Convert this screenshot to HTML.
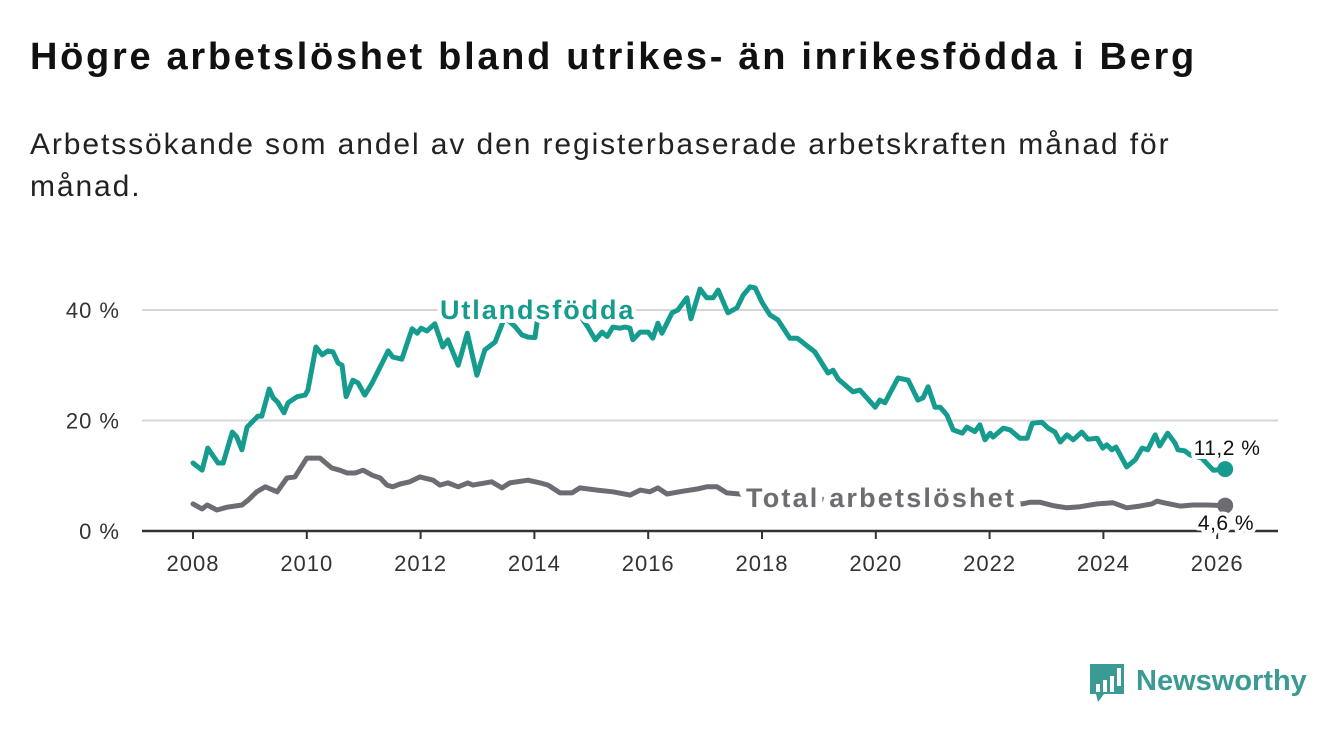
<!DOCTYPE html>
<html><head><meta charset="utf-8">
<style>
html,body{margin:0;padding:0;background:#fff;}
body{width:1340px;height:734px;overflow:hidden;position:relative;font-family:"Liberation Sans","DejaVu Sans",sans-serif;}
#title{position:absolute;left:30px;top:36px;font-size:38px;font-weight:bold;color:#111;margin:0;letter-spacing:2.7px;white-space:nowrap;}
#subtitle{position:absolute;left:30px;top:124px;width:1200px;font-size:30px;line-height:42px;color:#222;margin:0;letter-spacing:1.9px;}
svg{position:absolute;left:0;top:0;}
</style></head>
<body>
<h1 id="title">Högre arbetslöshet bland utrikes- än inrikesfödda i Berg</h1>
<p id="subtitle">Arbetssökande som andel av den registerbaserade arbetskraften månad för månad.</p>
<svg id="chart" width="1340" height="734"></svg>
<script>
const yTicks = [0, 20, 40];
const yTickLabels = ["0 %", "20 %", "40 %"];
const xTicks = [2008, 2010, 2012, 2014, 2016, 2018, 2020, 2022, 2024, 2026];
const foreignDates = [2008.00,2008.16,2008.26,2008.44,2008.53,2008.69,2008.77,2008.86,2008.95,2009.14,2009.21,2009.34,2009.41,2009.49,2009.60,2009.67,2009.83,2009.97,2010.02,2010.16,2010.27,2010.37,2010.46,2010.55,2010.62,2010.69,2010.81,2010.90,2011.02,2011.15,2011.29,2011.43,2011.51,2011.67,2011.85,2011.94,2012.01,2012.11,2012.25,2012.39,2012.48,2012.66,2012.82,2012.99,2013.13,2013.31,2013.48,2013.66,2013.78,2013.89,2014.01,2014.06,2014.2,2014.4,2014.6,2014.8,2014.94,2015.07,2015.19,2015.28,2015.38,2015.50,2015.59,2015.68,2015.73,2015.86,2016.00,2016.08,2016.17,2016.24,2016.42,2016.52,2016.68,2016.75,2016.91,2017.03,2017.14,2017.23,2017.40,2017.56,2017.67,2017.79,2017.88,2018.00,2018.14,2018.28,2018.49,2018.62,2018.93,2019.16,2019.25,2019.34,2019.60,2019.72,2019.99,2020.07,2020.16,2020.39,2020.57,2020.74,2020.83,2020.92,2021.04,2021.13,2021.25,2021.36,2021.52,2021.60,2021.74,2021.83,2021.92,2022.01,2022.06,2022.24,2022.36,2022.53,2022.66,2022.75,2022.92,2023.03,2023.15,2023.24,2023.36,2023.47,2023.62,2023.73,2023.89,2023.99,2024.06,2024.15,2024.22,2024.41,2024.56,2024.68,2024.78,2024.91,2024.99,2025.13,2025.26,2025.31,2025.43,2025.52,2025.73,2025.93,2026.14];
const foreignValues = [12.3,11.0,15.0,12.3,12.3,17.9,17.0,14.7,18.8,20.8,20.8,25.7,24.1,23.3,21.4,23.2,24.3,24.6,25.5,33.3,31.9,32.6,32.4,30.4,30.0,24.3,27.3,26.8,24.6,26.8,29.7,32.6,31.5,31.1,36.6,35.8,36.7,36.2,37.5,33.3,34.6,30.0,35.8,28.2,32.8,34.2,38.7,37.0,35.5,35.1,35.0,38.7,40.0,41.0,40.0,39.0,36.9,34.6,36.0,35.2,36.9,36.7,36.9,36.7,34.6,36.0,36.0,34.9,37.6,35.8,39.5,40.0,42.2,38.4,43.8,42.2,42.2,43.6,39.5,40.4,42.7,44.2,44.0,41.4,39.1,38.2,34.9,34.9,32.4,28.6,29.1,27.5,25.2,25.5,22.4,23.7,23.2,27.7,27.3,23.7,24.1,26.1,22.4,22.4,21.0,18.3,17.7,18.8,18.0,19.2,16.5,17.7,17.0,18.6,18.3,16.8,16.8,19.5,19.7,18.6,17.9,16.1,17.4,16.5,17.9,16.6,16.8,15.0,15.6,14.7,15.2,11.6,12.9,15.0,14.7,17.4,15.4,17.7,15.9,14.7,14.5,13.8,13.2,11.0,11.2];
const totalDates = [2008.00,2008.16,2008.25,2008.42,2008.60,2008.86,2008.97,2009.12,2009.27,2009.48,2009.65,2009.79,2010.00,2010.23,2010.44,2010.58,2010.71,2010.85,2010.99,2011.15,2011.29,2011.41,2011.51,2011.64,2011.81,2011.99,2012.22,2012.34,2012.48,2012.66,2012.83,2012.92,2013.25,2013.43,2013.57,2013.89,2014.10,2014.24,2014.45,2014.66,2014.80,2015.10,2015.38,2015.68,2015.86,2016.03,2016.17,2016.33,2016.61,2016.86,2017.03,2017.21,2017.38,2017.61,2017.8,2018.2,2018.6,2019.0,2019.5,2020.0,2020.5,2021.0,2021.5,2022.0,2022.57,2022.71,2022.89,2023.11,2023.36,2023.59,2023.89,2024.17,2024.41,2024.64,2024.85,2024.94,2025.12,2025.35,2025.57,2025.82,2026.14];
const totalValues = [4.9,4.0,4.7,3.8,4.3,4.7,5.6,7.1,8.0,7.1,9.6,9.8,13.2,13.2,11.4,11.0,10.5,10.5,11.0,10.1,9.6,8.3,8.0,8.5,8.9,9.8,9.2,8.3,8.7,8.0,8.7,8.3,8.9,7.8,8.7,9.2,8.7,8.3,6.9,6.9,7.8,7.4,7.1,6.5,7.4,7.1,7.8,6.7,7.2,7.6,8.0,8.0,6.9,6.7,6.5,6.2,6.0,5.8,5.5,7.0,6.8,6.2,5.5,5.2,4.9,5.2,5.2,4.6,4.2,4.4,4.9,5.1,4.2,4.5,4.9,5.4,5.0,4.5,4.7,4.7,4.6];

const NS = "http://www.w3.org/2000/svg";
const svg = document.getElementById('chart');
const X0 = 193, XPY = 56.9, Y0 = 531, YPV = 5.525;
function xs(t){ return X0 + (t - 2008) * XPY; }
function ys(v){ return Y0 - v * YPV; }
function mk(tag, attrs){ const e = document.createElementNS(NS, tag); for (const k in attrs) e.setAttribute(k, attrs[k]); svg.appendChild(e); return e; }
const TEAL = "#169b8f", GRAY = "#6d6c72";

yTicks.forEach((v, i) => {
  if (v !== 0) {
    const g = mk('line', {x1:142, x2:1278, y1:ys(v), y2:ys(v), stroke:'#d6d6d6', 'stroke-width':2});
    
    
  }
  const t = mk('text', {x:120, y:ys(v)+8, 'text-anchor':'end', 'font-size':22, fill:'#333', 'letter-spacing':1});
  t.textContent = yTickLabels[i];
  
  
});
xTicks.forEach(yr => {
  const tk = mk('line', {x1:xs(yr), x2:xs(yr), y1:Y0, y2:Y0+8, stroke:'#333', 'stroke-width':2});
  
  
  const t = mk('text', {x:xs(yr), y:571, 'text-anchor':'middle', 'font-size':22, fill:'#333', 'letter-spacing':1});
  t.textContent = yr;
  
  
});
const base = mk('line', {x1:142, x2:1278, y1:Y0, y2:Y0, stroke:'#333', 'stroke-width':2.5});



function series(d, v, color, name){
  const pts = d.map((t,i) => xs(t).toFixed(1) + ',' + ys(v[i]).toFixed(1)).join(' ');
  const p = mk('polyline', {points:pts, fill:'none', stroke:color, 'stroke-width':5, 'stroke-linejoin':'round', 'stroke-linecap':'round'});
  
  
  const c = mk('circle', {cx:xs(d[d.length-1]), cy:ys(v[v.length-1]), r:8, fill:color});
  
  
}
series(totalDates, totalValues, GRAY, 'total');
series(foreignDates, foreignValues, TEAL, 'foreign-born');

function label(txt, x, y, size, color, weight, anchor, ls, sw, name){
  const t = mk('text', {x:x, y:y, 'font-size':size, fill:color, 'font-weight':weight, 'text-anchor':anchor, 'letter-spacing':ls, stroke:'#fff', 'stroke-width':sw, 'paint-order':'stroke', 'stroke-linejoin':'round'});
  t.textContent = txt;
  
  
}
label('Utlandsfödda', 440, 319, 27, TEAL, 'bold', 'start', 1.9, 8, 'foreign-born-label');
label('Total arbetslöshet', 746, 507, 27, GRAY, 'bold', 'start', 2.2, 14, 'total-label');
label('11,2 %', 1227, 455, 21, '#111', 'normal', 'middle', 0.5, 8, 'foreign-born-value-label');
label('4,6 %', 1226, 530, 21, '#111', 'normal', 'middle', 0.5, 8, 'total-value-label');

// logo
const lg = mk('path', {d:'M1090 664 h34 v30 h-20 l-6 8 l-2 -8 h-6 z', fill:'#3a9a94'});


[[1096,684,4,8],[1103,680,4,12],[1110,676,4,16]].forEach(b=>{
  const r = mk('rect', {x:b[0], y:b[1], width:b[2], height:b[3], fill:'#fff'});
  
  
});
const ex = mk('rect', {x:1117, y:668, width:4, height:18, fill:'#fff'});


const lt = mk('text', {x:1136, y:690, 'font-size':29, fill:'#3a9a94', 'font-weight':'bold'});
lt.textContent = 'Newsworthy';


</script>
</body></html>
